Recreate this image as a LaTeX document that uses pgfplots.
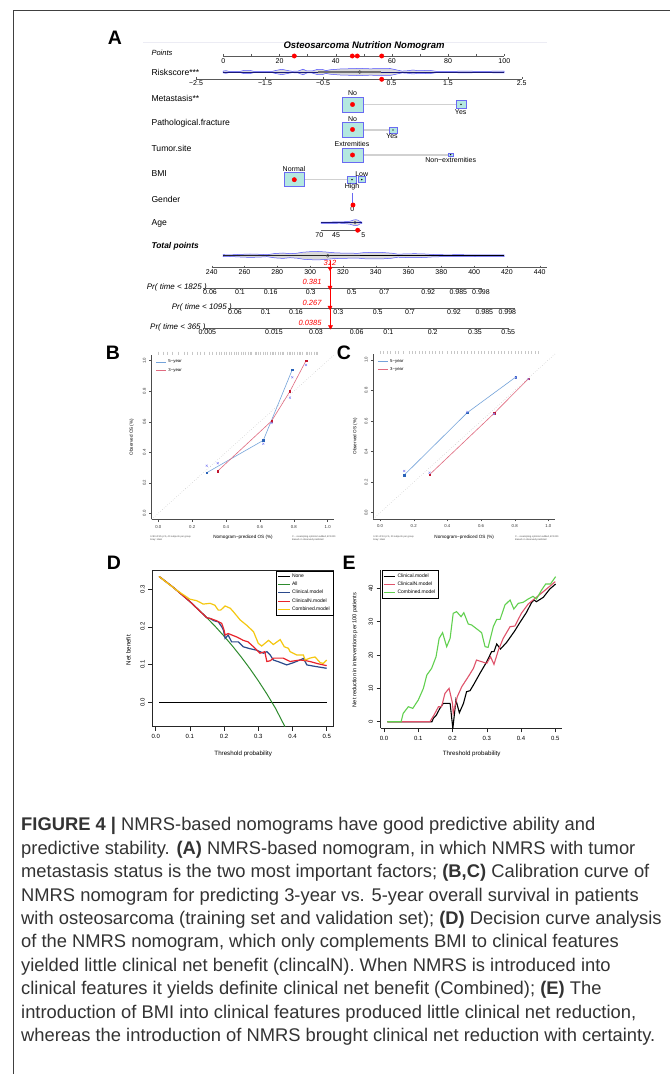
\documentclass[border=0pt]{standalone}
\usepackage{pgfplots}
\pgfplotsset{compat=1.18}
\usepackage{fontspec}
\setmainfont{Liberation Sans}
\newcommand\fs[1]{\fontsize{#1}{#1}\selectfont}
\definecolor{boxfill}{HTML}{B4E8E0}
\definecolor{boxdraw}{HTML}{6A6AF2}
\definecolor{violin}{HTML}{5050FF}
\definecolor{navy}{HTML}{1A1A7A}
\definecolor{calblue}{HTML}{74A3DA}
\definecolor{calbluept}{HTML}{2A63B8}
\definecolor{calred}{HTML}{E06B80}
\definecolor{calredpt}{HTML}{C0152F}
\definecolor{calx}{HTML}{8C8CF5}
\definecolor{dblue}{HTML}{2B4A8C}
\definecolor{dred}{HTML}{E8242C}
\definecolor{dyellow}{HTML}{F5C710}
\definecolor{dgreen}{HTML}{2E8B2E}
\definecolor{epink}{HTML}{DF536B}
\definecolor{egreen}{HTML}{61D04F}
\definecolor{captxt}{HTML}{333333}
\begin{document}
\begin{tikzpicture}
\path[use as bounding box] (0pt,0pt) rectangle (670pt,1074pt);
\fill[white] (0pt,0pt) rectangle (670pt,1074pt);
\draw[line width=0.8pt, black!75] (13pt,0pt) -- (13pt,1063.5pt) -- (670pt,1063.5pt);

% ================= Panel A (nomogram), pixel coordinates =================
\begin{axis}[at={(0pt,0pt)}, anchor=south west, scale only axis, width=670pt, height=1074pt,
  xmin=0, xmax=670, ymin=0, ymax=1074, y dir=reverse, hide axis, clip=false]
% panel letters
\node[font=\bfseries\fs{19.5}] at (axis cs:115,38) {A};
\node[font=\bfseries\fs{19.5}] at (axis cs:113,353) {B};
\node[font=\bfseries\fs{19.5}] at (axis cs:344,353) {C};
\node[font=\bfseries\fs{19.5}] at (axis cs:114,563) {D};
\node[font=\bfseries\fs{19.5}] at (axis cs:349,563) {E};
% top rule and title
\addplot[color={rgb,255:red,236;green,236;blue,244}, line width=0.8pt] coordinates {(143,42) (547,42)};
\node[font=\bfseries\itshape\fs{9.5}] at (axis cs:364,46.5) {Osteosarcoma Nutrition Nomogram};
% variable names
\node[font=\itshape\fs{7.5}, anchor=west] at (axis cs:148,53) {Points};
\node[font=\fs{8.6}, anchor=west] at (axis cs:148,72) {Riskscore***};
\node[font=\fs{8.6}, anchor=west] at (axis cs:148,98) {Metastasis**};
\node[font=\fs{8.6}, anchor=west] at (axis cs:148,123) {Pathological.fracture};
\node[font=\fs{8.6}, anchor=west] at (axis cs:148,148) {Tumor.site};
\node[font=\fs{8.6}, anchor=west] at (axis cs:148,174) {BMI};
\node[font=\fs{8.6}, anchor=west] at (axis cs:148,199) {Gender};
\node[font=\fs{8.6}, anchor=west] at (axis cs:148,223) {Age};
\node[font=\bfseries\itshape\fs{8.4}, anchor=west] at (axis cs:148,246) {Total points};
\node[font=\itshape\fs{8}, anchor=west, inner sep=0pt] at (axis cs:146.7,287.3) {Pr( time < 1825 )};
\node[font=\itshape\fs{8}, anchor=west, inner sep=0pt] at (axis cs:171.7,307.7) {Pr( time < 1095 )};
\node[font=\itshape\fs{8}, anchor=west, inner sep=0pt] at (axis cs:150,327.7) {Pr( time < 365 )};
% Points axis
\addplot[black!65, line width=0.5pt] coordinates {(223.3,56) (504.3,56)};
\addplot[black!65, only marks, mark=|, mark size=1pt, mark options={line width=0.4pt}] coordinates {
(223.3,55) (251.4,55) (279.5,55) (307.6,55) (335.7,55) (363.8,55) (391.9,55) (420.0,55) (448.1,55) (476.2,55) (504.3,55)};
\node[font=\fs{7}] at (axis cs:223.3,61.3) {0};
\node[font=\fs{7}] at (axis cs:279.5,61.3) {20};
\node[font=\fs{7}] at (axis cs:335.7,61.3) {40};
\node[font=\fs{7}] at (axis cs:391.9,61.3) {60};
\node[font=\fs{7}] at (axis cs:448.1,61.3) {80};
\node[font=\fs{7}] at (axis cs:504.3,61.3) {100};
% Riskscore violin
\addplot[fill=black!15, draw=violin, line width=0.5pt] coordinates {
(223,71.1) (226,70.7) (229,71.4) (240,71.4) (244,70.4) (250,70.4) (254,71.4) (272,71.4) (277,70.2) (282,69.3) (287,70.4) (292,71.3) (298,71.1) (303,69.2) (307,71.0) (312,71.0) (317,69.5) (322,69.3) (326,70.6) (330,69.8) (340,69.0) (350,68.7) (360,68.4) (370,68.8) (380,68.6) (390,68.5) (396,69.8) (402,71.1) (408,70.7) (413,70.0) (418,70.7) (425,70.5) (430,70.4) (436,71.3) (450,71.4) (465,71.1) (480,71.4) (504,71.1)
(504,72.9) (480,72.6) (465,72.9) (450,72.6) (436,72.7) (430,73.6) (425,73.5) (418,73.3) (413,74.0) (408,73.3) (402,72.9) (396,74.2) (390,75.5) (380,75.4) (370,75.2) (360,75.6) (350,75.3) (340,75.0) (330,74.2) (326,73.4) (322,74.7) (317,74.5) (312,73.0) (307,73.0) (303,74.8) (298,72.9) (292,72.7) (287,73.6) (282,74.7) (277,73.8) (272,72.6) (254,72.6) (250,73.6) (244,73.6) (240,72.6) (229,72.6) (226,73.3) (223,72.9)} -- cycle;
\addplot[navy, line width=0.9pt] coordinates {(223,72) (504,72)};
\addplot[black!55, line width=1.8pt] coordinates {(318,72) (381,72)};
\addplot[only marks, mark=o, mark size=1.6pt, mark options={draw=black!70, fill=white, line width=0.4pt}] coordinates {(359.7,72)};
% Riskscore axis
\addplot[black!65, line width=0.5pt] coordinates {(195.7,79) (521.7,79)};
\addplot[black!65, only marks, mark=|, mark size=1pt, mark options={line width=0.4pt}] coordinates {
(196,78) (265,78) (323,78) (391.5,78) (448,78) (521.7,78)};
\node[font=\fs{7}] at (axis cs:196,83.5) {−2.5};
\node[font=\fs{7}] at (axis cs:265,83.5) {−1.5};
\node[font=\fs{7}] at (axis cs:323,83.5) {−0.5};
\node[font=\fs{7}] at (axis cs:391.5,83.5) {0.5};
\node[font=\fs{7}] at (axis cs:448,83.5) {1.5};
\node[font=\fs{7}] at (axis cs:521.7,83.5) {2.5};
% connecting lines for categorical variables
\addplot[black!18, line width=1.1pt] coordinates {(363,104.3) (456,104.3)};
\addplot[black!18, line width=1.1pt] coordinates {(363,130) (389,130)};
\addplot[black!18, line width=1.1pt] coordinates {(363,155) (448,155)};
\addplot[black!18, line width=1.1pt] coordinates {(304,179.7) (347,179.7)};
% boxes
\addplot[fill=boxfill, draw=boxdraw, line width=0.8pt] coordinates {(342,97) (363,97) (363,112) (342,112)} -- cycle;
\addplot[fill=boxfill, draw=boxdraw, line width=0.8pt] coordinates {(456,100.7) (466,100.7) (466,108) (456,108)} -- cycle;
\addplot[fill=boxfill, draw=boxdraw, line width=0.8pt] coordinates {(342,122) (363,122) (363,137) (342,137)} -- cycle;
\addplot[fill=boxfill, draw=boxdraw, line width=0.8pt] coordinates {(389,127) (397,127) (397,133) (389,133)} -- cycle;
\addplot[fill=boxfill, draw=boxdraw, line width=0.8pt] coordinates {(342,148) (363,148) (363,162) (342,162)} -- cycle;
\addplot[fill=boxfill, draw=boxdraw, line width=0.8pt] coordinates {(448,153) (453.5,153) (453.5,156.5) (448,156.5)} -- cycle;
\addplot[fill=boxfill, draw=boxdraw, line width=0.8pt] coordinates {(284,172.7) (304,172.7) (304,186.7) (284,186.7)} -- cycle;
\addplot[fill=boxfill, draw=boxdraw, line width=0.8pt] coordinates {(347.3,176) (356.7,176) (356.7,183.3) (347.3,183.3)} -- cycle;
\addplot[fill=boxfill, draw=boxdraw, line width=0.8pt] coordinates {(358,176.7) (365.7,176.7) (365.7,182.7) (358,182.7)} -- cycle;
\addplot[only marks, mark=*, mark size=0.45pt, black] coordinates {(461,104.3) (393,130) (450.7,154.7) (352,179.6) (361.8,179.6)};
% Gender
\addplot[boxdraw, line width=1.2pt] coordinates {(352.3,193) (352.3,205)};
\node[font=\fs{7}] at (axis cs:352.3,209.5) {0};
% level labels
\node[font=\fs{7}] at (axis cs:352.5,93) {No};
\node[font=\fs{7}] at (axis cs:460.7,111.8) {Yes};
\node[font=\fs{7}] at (axis cs:352.5,119) {No};
\node[font=\fs{7}] at (axis cs:392,136.2) {Yes};
\node[font=\fs{7}] at (axis cs:352,144) {Extremities};
\node[font=\fs{7}] at (axis cs:450.7,159.8) {Non−extremities};
\node[font=\fs{7}] at (axis cs:294,169) {Normal};
\node[font=\fs{7}] at (axis cs:361.7,174) {Low};
\node[font=\fs{7}] at (axis cs:352,186.6) {High};
% Age violin and axis
\addplot[fill=black!15, draw=violin, line width=0.45pt] coordinates {
(321,222.1) (330,222.0) (340,221.9) (345,221.7) (350,221.2) (354,219.9) (356,219.7) (358,220.2) (360,221.5) (362,222.1)
(362,223.3) (360,223.9) (358,225.2) (356,225.7) (354,225.5) (350,224.2) (345,223.7) (340,223.5) (330,223.4) (321,223.3)} -- cycle;
\addplot[navy, line width=0.7pt] coordinates {(321,222.7) (362,222.7)};
\addplot[only marks, mark=o, mark size=1.5pt, mark options={draw=black!70, fill=black!10, line width=0.4pt}] coordinates {(355,222.7)};
\addplot[black!65, line width=0.5pt] coordinates {(321,230.7) (361,230.7)};
\node[font=\fs{7}] at (axis cs:319.3,235) {70};
\node[font=\fs{7}] at (axis cs:336,235) {45};
\node[font=\fs{7}] at (axis cs:363.3,235) {5};
% Total points violin
\addplot[fill=black!15, draw=violin, line width=0.5pt] coordinates {
(223,254.7) (230,254.9) (240,254.4) (250,254.0) (260,254.3) (267,254.7) (275,253.5) (283,253.0) (290,253.7) (297,253.2) (303,252.2) (310,251.7) (318,251.5) (325,251.9) (333,252.7) (340,253.0) (350,253.2) (358,253.3) (363,252.7) (372,252.4) (382,252.5) (392,253.2) (398,254.2) (405,253.9) (415,253.7) (425,254.0) (433,254.5) (445,254.8) (460,254.7) (475,254.9) (490,254.8) (504,254.8)
(504,256.6) (490,256.6) (475,256.5) (460,256.7) (445,256.6) (433,256.9) (425,257.4) (415,257.7) (405,257.5) (398,257.2) (392,258.2) (382,258.9) (372,259.0) (363,258.7) (358,258.1) (350,258.2) (340,258.4) (333,258.7) (325,259.5) (318,259.9) (310,259.7) (303,259.2) (297,258.2) (290,257.7) (283,258.4) (275,257.9) (267,256.7) (260,257.1) (250,257.4) (240,257.0) (230,256.5) (223,256.7)} -- cycle;
\addplot[black, line width=0.6pt] coordinates {(223,255.7) (504,255.7)};
\addplot[black!85, line width=1.3pt] coordinates {(223,255.7) (360,255.7)};
\addplot[only marks, mark=o, mark size=1.6pt, mark options={draw=black!70, fill=black!10, line width=0.4pt}] coordinates {(327.7,255.7)};
% Total points axis
\addplot[black!65, line width=0.5pt] coordinates {(211.7,267.7) (546.7,267.7)};
\addplot[black!65, only marks, mark=|, mark size=1pt, mark options={line width=0.4pt}] coordinates {
(211.7,266.7) (244.5,266.7) (277.3,266.7) (310.1,266.7) (342.9,266.7) (375.7,266.7) (408.5,266.7) (441.3,266.7) (474.1,266.7) (506.9,266.7) (539.7,266.7)};
\node[font=\fs{7}] at (axis cs:211.7,272.5) {240};
\node[font=\fs{7}] at (axis cs:244.5,272.5) {260};
\node[font=\fs{7}] at (axis cs:277.3,272.5) {280};
\node[font=\fs{7}] at (axis cs:310.1,272.5) {300};
\node[font=\fs{7}] at (axis cs:342.9,272.5) {320};
\node[font=\fs{7}] at (axis cs:375.7,272.5) {340};
\node[font=\fs{7}] at (axis cs:408.5,272.5) {360};
\node[font=\fs{7}] at (axis cs:441.3,272.5) {380};
\node[font=\fs{7}] at (axis cs:474.1,272.5) {400};
\node[font=\fs{7}] at (axis cs:506.9,272.5) {420};
\node[font=\fs{7}] at (axis cs:539.7,272.5) {440};
% Pr axes
\addplot[black!65, line width=0.5pt] coordinates {(203.3,288.3) (481.7,288.3)};
\addplot[black!65, line width=0.5pt] coordinates {(228.3,308.3) (515,308.3)};
\addplot[black!65, line width=0.5pt] coordinates {(203.3,328.3) (509.3,328.3)};
\addplot[black!65, only marks, mark=|, mark size=1pt, mark options={line width=0.4pt}] coordinates {
(210,289.3) (240,289.3) (270.7,289.3) (310.7,289.3) (351.7,289.3) (384.3,289.3) (428.3,289.3) (458.3,289.3) (481,289.3)
(235,309.3) (265.7,309.3) (296,309.3) (338.3,309.3) (377.7,309.3) (410,309.3) (454,309.3) (484.3,309.3) (507.3,309.3)
(207.3,329.3) (274,329.3) (316,329.3) (356.7,329.3) (388.3,329.3) (432.7,329.3) (475,329.3) (508.3,329.3)};
\node[font=\fs{7}] at (axis cs:210,292.5) {0.06};
\node[font=\fs{7}] at (axis cs:240,292.5) {0.1};
\node[font=\fs{7}] at (axis cs:270.7,292.5) {0.16};
\node[font=\fs{7}] at (axis cs:310.7,292.5) {0.3};
\node[font=\fs{7}] at (axis cs:351.7,292.5) {0.5};
\node[font=\fs{7}] at (axis cs:384.3,292.5) {0.7};
\node[font=\fs{7}] at (axis cs:428.3,292.5) {0.92};
\node[font=\fs{7}] at (axis cs:458.3,292.5) {0.985};
\node[font=\fs{7}] at (axis cs:481,292.5) {0.998};
\node[font=\fs{7}] at (axis cs:235,312.5) {0.06};
\node[font=\fs{7}] at (axis cs:265.7,312.5) {0.1};
\node[font=\fs{7}] at (axis cs:296,312.5) {0.16};
\node[font=\fs{7}] at (axis cs:338.3,312.5) {0.3};
\node[font=\fs{7}] at (axis cs:377.7,312.5) {0.5};
\node[font=\fs{7}] at (axis cs:410,312.5) {0.7};
\node[font=\fs{7}] at (axis cs:454,312.5) {0.92};
\node[font=\fs{7}] at (axis cs:484.3,312.5) {0.985};
\node[font=\fs{7}] at (axis cs:507.3,312.5) {0.998};
\node[font=\fs{7}] at (axis cs:207.3,332.5) {0.005};
\node[font=\fs{7}] at (axis cs:274,332.5) {0.015};
\node[font=\fs{7}] at (axis cs:316,332.5) {0.03};
\node[font=\fs{7}] at (axis cs:356.7,332.5) {0.06};
\node[font=\fs{7}] at (axis cs:388.3,332.5) {0.1};
\node[font=\fs{7}] at (axis cs:432.7,332.5) {0.2};
\node[font=\fs{7}] at (axis cs:475,332.5) {0.35};
\node[font=\fs{7}] at (axis cs:508.3,332.5) {0.55};
% red patient line and markers
\addplot[red, line width=0.9pt] coordinates {(330,261) (330,327)};
\addplot[only marks, red, mark=triangle*, mark size=2.4pt, mark options={rotate=180}] coordinates {(330,268.3) (330,287.3) (330,307.3) (330.5,326.7)};
\addplot[only marks, red, mark=*, mark size=2.2pt] coordinates {
(294.3,56) (352.3,56) (357.3,56) (381.7,56) (381.7,79.3) (352.5,104.5) (352.5,129.5) (352.5,155) (294.3,179.7) (353,205) (357.7,230.2)};
\node[font=\itshape\fs{7.5}, text=red] at (axis cs:330,263) {312};
\node[font=\itshape\fs{7.5}, text=red, anchor=east] at (axis cs:325,282.3) {0.381};
\node[font=\itshape\fs{7.5}, text=red, anchor=east] at (axis cs:325,302.7) {0.267};
\node[font=\itshape\fs{7.5}, text=red, anchor=east] at (axis cs:325,322.7) {0.0385};
% calibration footnotes
\node[font=\fs{2.4}, text=black!70, anchor=west, align=left, inner sep=0pt] at (axis cs:150,538.5) {n=89 d=25 p=5, 40 subjects per group\\Gray: ideal};
\node[font=\fs{2.4}, text=black!70, anchor=west, align=left, inner sep=0pt] at (axis cs:292,538.5) {X − resampling optimism added, B=1000\\Based on observed-predicted};
\node[font=\fs{2.4}, text=black!70, anchor=west, align=left, inner sep=0pt] at (axis cs:373,538.5) {n=41 d=13 p=5, 20 subjects per group\\Gray: ideal};
\node[font=\fs{2.4}, text=black!70, anchor=west, align=left, inner sep=0pt] at (axis cs:515,538.5) {X − resampling optimism added, B=1000\\Based on observed-predicted};
\end{axis}

% ================= Panel B =================
\begin{axis}[at={(151.5pt,554.6pt)}, anchor=south west, scale only axis, width=182.95pt, height=164.8pt,
  xmin=-0.04, xmax=1.04, ymin=-0.04, ymax=1.04,
  axis x line*=bottom, axis y line*=left, axis line style={black!70, line width=0.4pt},
  tick align=outside, major tick length=2.5pt, tick style={black!70, line width=0.4pt},
  xtick={0,0.2,0.4,0.6,0.8,1}, xticklabels={0.0,0.2,0.4,0.6,0.8,1.0},
  ytick={0,0.2,0.4,0.6,0.8,1}, yticklabels={0.0,0.2,0.4,0.6,0.8,1.0},
  ticklabel style={font=\fs{4.3}, text=black!80, inner sep=0pt},
  xticklabel shift=3pt, yticklabel style={rotate=90, anchor=south}, yticklabel shift=3pt,
  xlabel={Nomogram−prediced OS (\%)}, ylabel={Observed OS (\%)}, label style={font=\fs{4.6}},
  xlabel style={at={(axis description cs:0.5,-0.107)}, anchor=center},
  ylabel style={at={(axis description cs:-0.108,0.5)}, anchor=center},
  legend style={at={(axis description cs:0.02,0.985)}, anchor=north west, draw=none, fill=none, font=\fs{4.3}, inner sep=0.5pt},
  legend cell align=left,
  legend image code/.code={\draw[#1, line width=0.6pt] (0pt,0pt) -- (10pt,0pt);},
  clip=false]
\addplot[calblue, line width=0.6pt] coordinates {(0.286,0.266) (0.620,0.478) (0.791,0.941)};
\addlegendentry{5−year}
\addplot[calred, line width=0.6pt] coordinates {(0.351,0.277) (0.669,0.605) (0.777,0.799) (0.872,1.0)};
\addlegendentry{3−year}
\addplot[gray!70, dotted, line width=0.4pt, forget plot] coordinates {(-0.04,-0.04) (1.04,1.04)};
\addplot[only marks, mark=square*, mark size=0.8pt, calbluept, forget plot] coordinates {(0.286,0.266) (0.620,0.478) (0.791,0.941)};
\addplot[only marks, mark=square*, mark size=0.8pt, calredpt, forget plot] coordinates {(0.351,0.277) (0.669,0.605) (0.777,0.799) (0.872,1.0)};
\addplot[only marks, mark=x, mark size=1.4pt, calx, line width=0.45pt, forget plot] coordinates {(0.286,0.312) (0.351,0.328) (0.620,0.456) (0.669,0.592) (0.777,0.758) (0.791,0.891) (0.872,0.972)};
\addplot[only marks, mark=|, mark size=1.5pt, black!22, line width=0.3pt, forget plot] coordinates {
(0.00,1.05) (0.03,1.05) (0.05,1.05) (0.08,1.05) (0.12,1.05) (0.15,1.05) (0.17,1.05) (0.20,1.05) (0.23,1.05) (0.25,1.05) (0.27,1.05) (0.30,1.05) (0.32,1.05) (0.34,1.05) (0.36,1.05) (0.37,1.05) (0.39,1.05) (0.40,1.05) (0.42,1.05) (0.43,1.05) (0.45,1.05) (0.46,1.05) (0.47,1.05) (0.49,1.05) (0.50,1.05) (0.51,1.05) (0.53,1.05) (0.54,1.05) (0.55,1.05) (0.57,1.05) (0.58,1.05) (0.59,1.05) (0.60,1.05) (0.62,1.05) (0.63,1.05) (0.64,1.05) (0.66,1.05) (0.67,1.05) (0.68,1.05) (0.69,1.05) (0.71,1.05) (0.72,1.05) (0.73,1.05) (0.74,1.05) (0.76,1.05) (0.77,1.05) (0.78,1.05) (0.79,1.05) (0.80,1.05) (0.82,1.05) (0.83,1.05) (0.84,1.05) (0.85,1.05) (0.87,1.05) (0.88,1.05) (0.89,1.05) (0.90,1.05) (0.92,1.05) (0.93,1.05) (0.94,1.05)};
\end{axis}

% ================= Panel C =================
\begin{axis}[at={(373.3pt,555.2pt)}, anchor=south west, scale only axis, width=181.8pt, height=164.9pt,
  xmin=-0.04, xmax=1.04, ymin=-0.04, ymax=1.04,
  axis x line*=bottom, axis y line*=left, axis line style={black!70, line width=0.4pt},
  tick align=outside, major tick length=2.5pt, tick style={black!70, line width=0.4pt},
  xtick={0,0.2,0.4,0.6,0.8,1}, xticklabels={0.0,0.2,0.4,0.6,0.8,1.0},
  ytick={0,0.2,0.4,0.6,0.8,1}, yticklabels={0.0,0.2,0.4,0.6,0.8,1.0},
  ticklabel style={font=\fs{4.3}, text=black!80, inner sep=0pt},
  xticklabel shift=3pt, yticklabel style={rotate=90, anchor=south}, yticklabel shift=3pt,
  xlabel={Nomogram−prediced OS (\%)}, ylabel={Observed OS (\%)}, label style={font=\fs{4.6}},
  xlabel style={at={(axis description cs:0.5,-0.11)}, anchor=center},
  ylabel style={at={(axis description cs:-0.10,0.5)}, anchor=center},
  legend style={at={(axis description cs:0.02,0.985)}, anchor=north west, draw=none, fill=none, font=\fs{4.3}, inner sep=0.5pt},
  legend cell align=left,
  legend image code/.code={\draw[#1, line width=0.6pt] (0pt,0pt) -- (10pt,0pt);},
  clip=false]
\addplot[calblue, line width=0.6pt] coordinates {(0.144,0.247) (0.518,0.655) (0.806,0.888)};
\addlegendentry{5−year}
\addplot[calred, line width=0.6pt] coordinates {(0.294,0.249) (0.678,0.651) (0.882,0.878)};
\addlegendentry{3−year}
\addplot[gray!70, dotted, line width=0.4pt, forget plot] coordinates {(-0.04,-0.04) (1.04,1.04)};
\addplot[only marks, mark=square*, mark size=0.8pt, calbluept, forget plot] coordinates {(0.144,0.247) (0.518,0.655) (0.806,0.888)};
\addplot[only marks, mark=square*, mark size=0.8pt, calredpt, forget plot] coordinates {(0.294,0.249) (0.678,0.651) (0.882,0.878)};
\addplot[only marks, mark=x, mark size=1.4pt, calx, line width=0.45pt, forget plot] coordinates {(0.144,0.273) (0.518,0.660) (0.806,0.885) (0.294,0.262) (0.678,0.647) (0.882,0.875)};
\addplot[only marks, mark=|, mark size=1.5pt, black!22, line width=0.3pt, forget plot] coordinates {
(0.00,1.05) (0.02,1.05) (0.04,1.05) (0.06,1.05) (0.09,1.05) (0.11,1.05) (0.14,1.05) (0.17,1.05) (0.19,1.05) (0.21,1.05) (0.23,1.05) (0.25,1.05) (0.27,1.05) (0.29,1.05) (0.31,1.05) (0.33,1.05) (0.35,1.05) (0.37,1.05) (0.40,1.05) (0.42,1.05) (0.44,1.05) (0.46,1.05) (0.48,1.05) (0.50,1.05) (0.52,1.05) (0.54,1.05) (0.56,1.05) (0.58,1.05) (0.60,1.05) (0.62,1.05) (0.64,1.05) (0.66,1.05) (0.68,1.05) (0.70,1.05) (0.72,1.05) (0.74,1.05) (0.76,1.05) (0.78,1.05) (0.80,1.05) (0.82,1.05) (0.84,1.05) (0.86,1.05) (0.88,1.05) (0.90,1.05) (0.92,1.05) (0.94,1.05)};
\end{axis}

% ================= Panel D =================
\begin{axis}[at={(152.4pt,347.3pt)}, anchor=south west, scale only axis, width=181pt, height=156pt,
  xmin=-0.0096, xmax=0.5196, ymin=-0.0646, ymax=0.3484,
  axis line style={black!85, line width=0.5pt},
  tick pos=left, tick align=outside, major tick length=4pt, tick style={black!85, line width=0.5pt},
  xtick={0,0.1,0.2,0.3,0.4,0.5}, xticklabels={0.0,0.1,0.2,0.3,0.4,0.5},
  ytick={0,0.1,0.2,0.3}, yticklabels={0.0,0.1,0.2,0.3},
  ticklabel style={font=\fs{6}, inner sep=0pt},
  xticklabel shift=3.5pt, yticklabel style={rotate=90, anchor=south}, yticklabel shift=3.5pt,
  xlabel={Threshold probability}, ylabel={Net benefit}, label style={font=\fs{6.2}},
  xlabel style={at={(axis description cs:0.502,-0.175)}, anchor=center},
  ylabel style={at={(axis description cs:-0.133,0.49)}, anchor=center},
  legend style={at={(1,1)}, anchor=north east, font=\fs{5}, draw=black, line width=0.5pt, inner sep=1.3pt, row sep=-1pt},
  legend cell align=left,
  legend image code/.code={\draw[#1, line width=0.9pt] (0pt,0pt) -- (11.5pt,0pt);}]
\addplot[black, line width=1pt] coordinates {(0.01,0) (0.5,0)};
\addlegendentry{None}
\addplot[dgreen, line width=1pt] coordinates {(0.01,0.3333) (0.025,0.3231) (0.05,0.3053) (0.075,0.2865) (0.1,0.2667) (0.125,0.2457) (0.15,0.2235) (0.175,0.2000) (0.2,0.175) (0.225,0.1484) (0.25,0.12) (0.275,0.0897) (0.3,0.0571) (0.325,0.0222) (0.35,-0.0154) (0.378,-0.0646)};
\addlegendentry{All}
\addplot[dblue, line width=1.2pt] coordinates {(0.01,0.333) (0.05,0.3053) (0.1,0.2667) (0.15,0.2235) (0.159,0.222) (0.17,0.216) (0.183,0.213) (0.193,0.200) (0.198,0.191) (0.203,0.169) (0.212,0.178) (0.222,0.160) (0.242,0.160) (0.256,0.147) (0.275,0.142) (0.295,0.138) (0.315,0.130) (0.325,0.134) (0.335,0.125) (0.344,0.112) (0.36,0.107) (0.383,0.099) (0.40,0.104) (0.422,0.112) (0.432,0.116) (0.442,0.099) (0.46,0.096) (0.48,0.093) (0.5,0.090)};
\addlegendentry{Clinical.model}
\addplot[dred, line width=1.2pt] coordinates {(0.01,0.333) (0.05,0.3053) (0.1,0.2667) (0.15,0.2235) (0.159,0.222) (0.178,0.216) (0.193,0.209) (0.200,0.191) (0.203,0.178) (0.212,0.182) (0.237,0.173) (0.256,0.164) (0.27,0.160) (0.286,0.147) (0.305,0.130) (0.319,0.134) (0.325,0.108) (0.335,0.110) (0.344,0.117) (0.373,0.117) (0.393,0.108) (0.422,0.112) (0.44,0.110) (0.451,0.108) (0.475,0.102) (0.5,0.097)};
\addlegendentry{ClinicalN.model}
\addplot[dyellow, line width=1.2pt] coordinates {(0.01,0.333) (0.061,0.297) (0.100,0.273) (0.120,0.269) (0.139,0.260) (0.159,0.262) (0.173,0.257) (0.183,0.244) (0.190,0.244) (0.203,0.255) (0.218,0.249) (0.227,0.240) (0.247,0.218) (0.266,0.204) (0.286,0.187) (0.300,0.156) (0.310,0.149) (0.330,0.164) (0.344,0.153) (0.364,0.166) (0.376,0.147) (0.388,0.143) (0.393,0.134) (0.413,0.125) (0.432,0.125) (0.437,0.112) (0.451,0.117) (0.466,0.120) (0.481,0.105) (0.490,0.103) (0.5,0.112)};
\addlegendentry{Combined.model}
\end{axis}

% ================= Panel E =================
\begin{axis}[at={(380.7pt,345.6pt)}, anchor=south west, scale only axis, width=181.3pt, height=158.4pt,
  xmin=-0.0096, xmax=0.5196, ymin=-2, ymax=45.5,
  axis x line*=bottom, axis y line*=left, axis line style={black!85, line width=0.5pt},
  tick align=outside, major tick length=4pt, tick style={black!85, line width=0.5pt},
  xtick={0,0.1,0.2,0.3,0.4,0.5}, xticklabels={0.0,0.1,0.2,0.3,0.4,0.5},
  ytick={0,10,20,30,40}, yticklabels={0,10,20,30,40},
  ticklabel style={font=\fs{6}, inner sep=0pt},
  xticklabel shift=3.5pt, yticklabel style={rotate=90, anchor=south}, yticklabel shift=3.5pt,
  xlabel={Threshold probability}, ylabel={Net reduction in interventions per 100 patients}, label style={font=\fs{5.6}},
  xlabel style={font=\fs{6.2}, at={(axis description cs:0.502,-0.1635)}, anchor=center},
  ylabel style={at={(axis description cs:-0.142,0.495)}, anchor=center},
  legend style={at={(0.005,1)}, anchor=north west, font=\fs{5}, draw=black, line width=0.5pt, inner sep=1.3pt, row sep=-1pt},
  legend cell align=left,
  legend image code/.code={\draw[#1, line width=0.9pt] (0pt,0pt) -- (11.5pt,0pt);}]
\addplot[black, line width=1.1pt] coordinates {(0.01,0) (0.14,0) (0.144,1.0) (0.153,2.0) (0.163,4.0) (0.173,5.5) (0.193,5.5) (0.201,-2) (0.210,6.5) (0.220,2.7) (0.232,5.5) (0.241,9.0) (0.251,9.3) (0.261,11) (0.280,14.5) (0.300,18) (0.314,21) (0.321,21) (0.329,23.3) (0.340,21.8) (0.358,23.8) (0.382,27.3) (0.397,29.8) (0.416,32.8) (0.431,35.8) (0.438,36.5) (0.445,36.0) (0.465,37.3) (0.484,39.8) (0.501,41.3)};
\addlegendentry{Clinical.model}
\addplot[epink, line width=1.1pt] coordinates {(0.01,0) (0.134,0) (0.146,2.0) (0.159,4.5) (0.168,4.5) (0.178,8.5) (0.19,10) (0.2,5.5) (0.202,2.5) (0.214,7.5) (0.227,10.5) (0.246,13.5) (0.261,16) (0.27,18.5) (0.285,18) (0.3,17.5) (0.311,19.5) (0.321,17.2) (0.334,21.5) (0.348,25) (0.368,28.5) (0.382,28.7) (0.401,32.5) (0.421,35.3) (0.435,36.5) (0.465,39) (0.5,42)};
\addlegendentry{ClinicalN.model}
\addplot[egreen, line width=1.1pt] coordinates {(0.01,0) (0.05,0) (0.056,2.5) (0.071,4.5) (0.084,4.0) (0.1,6.5) (0.115,10) (0.125,14) (0.139,16) (0.152,19.5) (0.161,25) (0.171,26.7) (0.183,22.5) (0.193,25) (0.202,32.5) (0.212,33) (0.225,31.5) (0.233,32.7) (0.246,29.3) (0.256,29) (0.275,27.5) (0.285,26.7) (0.295,22.5) (0.304,22.3) (0.319,28.5) (0.329,30.7) (0.339,30.7) (0.353,35) (0.368,36.5) (0.379,33.8) (0.392,35.5) (0.406,35.8) (0.421,36.8) (0.435,37.6) (0.445,36.8) (0.46,39.5) (0.472,41.3) (0.486,41.3) (0.501,43.5)};
\addlegendentry{Combined.model}
\end{axis}

% ================= Caption =================
\begin{scope}[every node/.style={anchor=base west, inner sep=0pt, font=\fs{18.35}, text=captxt}]
\node at (21pt,243pt) {\textbf{FIGURE 4 |} NMRS-based nomograms have good predictive ability and};
\node at (21pt,219.6pt) {predictive stability. \textbf{(A)} NMRS-based nomogram, in which NMRS with tumor};
\node at (21pt,196.2pt) {metastasis status is the two most important factors; \textbf{(B,C)} Calibration curve of};
\node at (21pt,172.8pt) {NMRS nomogram for predicting 3-year vs. 5-year overall survival in patients};
\node at (21pt,149.4pt) {with osteosarcoma (training set and validation set); \textbf{(D)} Decision curve analysis};
\node at (21pt,126pt) {of the NMRS nomogram, which only complements BMI to clinical features};
\node at (21pt,102.6pt) {yielded little clinical net benefit (clincalN). When NMRS is introduced into};
\node at (21pt,79.2pt) {clinical features it yields definite clinical net benefit (Combined); \textbf{(E)} The};
\node at (21pt,55.8pt) {introduction of BMI into clinical features produced little clinical net reduction,};
\node at (21pt,32.4pt) {whereas the introduction of NMRS brought clinical net reduction with certainty.};
\end{scope}
\end{tikzpicture}
\end{document}
